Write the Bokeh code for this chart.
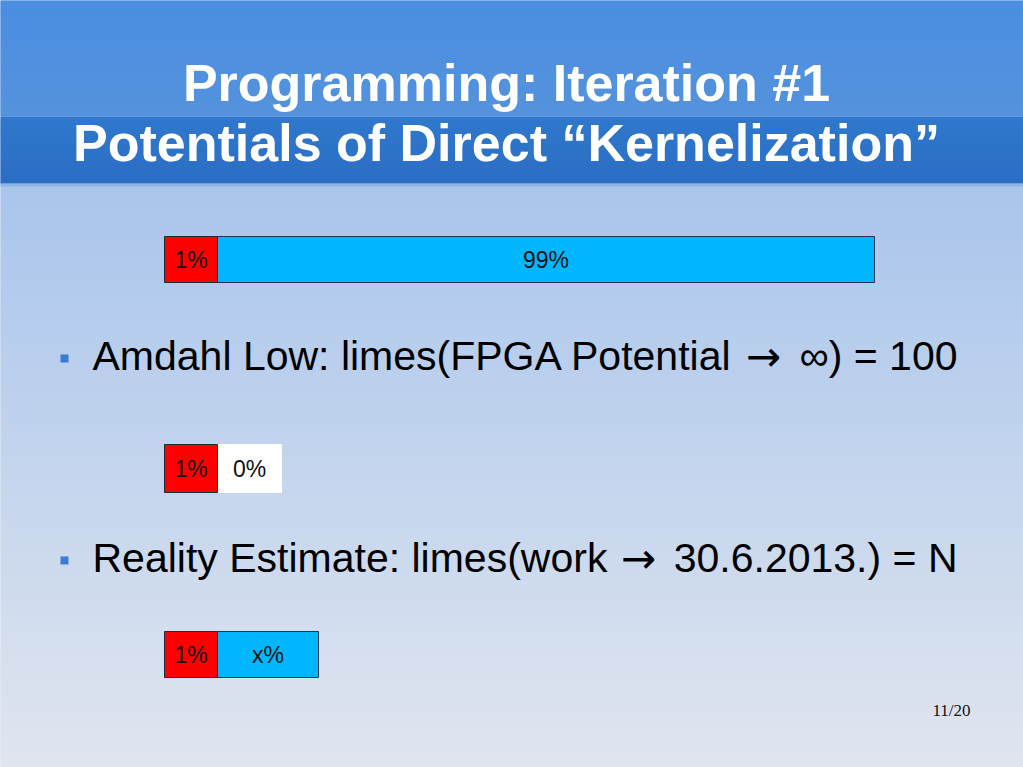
import numpy as np
from bokeh.plotting import figure
from bokeh.models import Range1d, ColumnDataSource
from bokeh.core.properties import value
from bokeh.embed import file_html
from bokeh.resources import INLINE

# ---- data ----
title_lines = ["Programming: Iteration #1", "Potentials of Direct \u201cKernelization\u201d"]
bullet_before = ["Amdahl Low: limes(FPGA Potential", "Reality Estimate: limes(work"]
bullet_arrow = ["\u2192", "\u2192"]
bullet_after = ["\u221e) = 100", "30.6.2013.) = N"]
rows = ["bar1", "bar2", "bar3"]
seg1_labels = ["1%", "1%", "1%"]
seg2_labels = ["99%", "0%", "x%"]
# displayed segment widths (slide units)
seg1_width = [53, 53, 53]
seg2_width = [657, 64, 101]
page_label = "11/20"

# ---- layout / style ----
W, H = 1023, 767
p = figure(width=W, height=H, output_backend="svg", toolbar_location=None,
           x_range=Range1d(0, W), y_range=Range1d(H, 0),
           min_border=0)
p.axis.visible = False
p.grid.visible = False
p.outline_line_color = None
p.background_fill_color = "#dfe6f1"
p.border_fill_color = "#dfe6f1"

def lerp(c1, c2, t):
    a = np.array([int(c1[i:i+2], 16) for i in (1, 3, 5)])
    b = np.array([int(c2[i:i+2], 16) for i in (1, 3, 5)])
    c = (a + (b - a) * t).round().astype(int)
    return "#%02x%02x%02x" % tuple(c)

def gradient(ya, yb, ca, cb, step=3):
    tops, bots, cols = [], [], []
    for y in range(ya, yb, step):
        t = (y - ya) / max(1, (yb - ya))
        tops.append(y)
        bots.append(min(y + step + 1, yb))
        cols.append(lerp(ca, cb, t))
    p.quad(left=-5, right=W + 5, top=tops, bottom=bots, fill_color=cols, line_color=None)

# background gradient
gradient(183, 775, "#a9c5ec", "#e1e6ef")
# header bands
gradient(-2, 116, "#4a8ee2", "#5592dc", step=2)
gradient(116, 183, "#3078cc", "#2a6ec4", step=2)
p.quad(left=-5, right=W + 5, top=[183], bottom=[186], fill_color="#8fb3e3", line_color=None)

# title
p.text(x=[506, 506], y=[82, 142], text=title_lines, text_align="center",
       text_baseline="middle", text_color="white",
       text_font=value("Liberation Sans"), text_font_style="bold",
       text_font_size="52px")

# bullets
by = [355, 557]
p.rect(x=[64, 64], y=[358, 560], width=8, height=8, fill_color="#3b7bd4", line_color=None)
p.text(x=[92, 92], y=by, text=bullet_before, text_align="left", text_baseline="middle",
       text_color="black", text_font=value("Liberation Sans"), text_font_size="41px")
p.text(x=[763, 638], y=[b + 1 for b in by], text=bullet_arrow, text_align="center",
       text_baseline="middle", text_color="black", text_font=value("DejaVu Sans"),
       text_font_size="42px")
p.text(x=[957, 957], y=by, text=bullet_after, text_align="right", text_baseline="middle",
       text_color="black", text_font=value("Liberation Sans"), text_font_size="41px")

# bars
bar_y = [259, 468, 654]
bar_h = [46, 48, 46]
left0 = 164
s1_r = [left0 + w for w in seg1_width]
s2_r = [s1_r[i] + seg2_width[i] for i in range(3)]
seg2_colors = ["#00b6ff", "#ffffff", "#00b6ff"]
src1 = ColumnDataSource(dict(y=bar_y, h=bar_h, l=[left0] * 3, r=s1_r,
                             lab=seg1_labels, c=[(left0 + r) / 2 for r in s1_r]))
src2 = ColumnDataSource(dict(y=bar_y, h=bar_h, l=s1_r, r=s2_r, lab=seg2_labels,
                             fc=seg2_colors, lc=["#1f3550", "#ffffff", "#1f3550"],
                             c=[(s1_r[i] + s2_r[i]) / 2 for i in range(3)]))
p.hbar(y="y", height="h", left="l", right="r", source=src2, fill_color="fc",
       line_color="lc", line_width=1)
p.hbar(y="y", height="h", left="l", right="r", source=src1, fill_color="#ff0000",
       line_color="#1f2a3a", line_width=1)
p.text(x="c", y="y", text="lab", source=src1, text_align="center", text_baseline="middle",
       text_color="#111111", text_font=value("Liberation Sans"), text_font_size="23px")
p.text(x="c", y="y", text="lab", source=src2, text_align="center", text_baseline="middle",
       text_color="#111111", text_font=value("Liberation Sans"), text_font_size="23px")

# page number
p.text(x=[951], y=[710], text=[page_label], text_align="center", text_baseline="middle",
       text_color="#111111", text_font=value("Liberation Serif"), text_font_size="17px")

open("out.html", "w").write(file_html(p, INLINE))
